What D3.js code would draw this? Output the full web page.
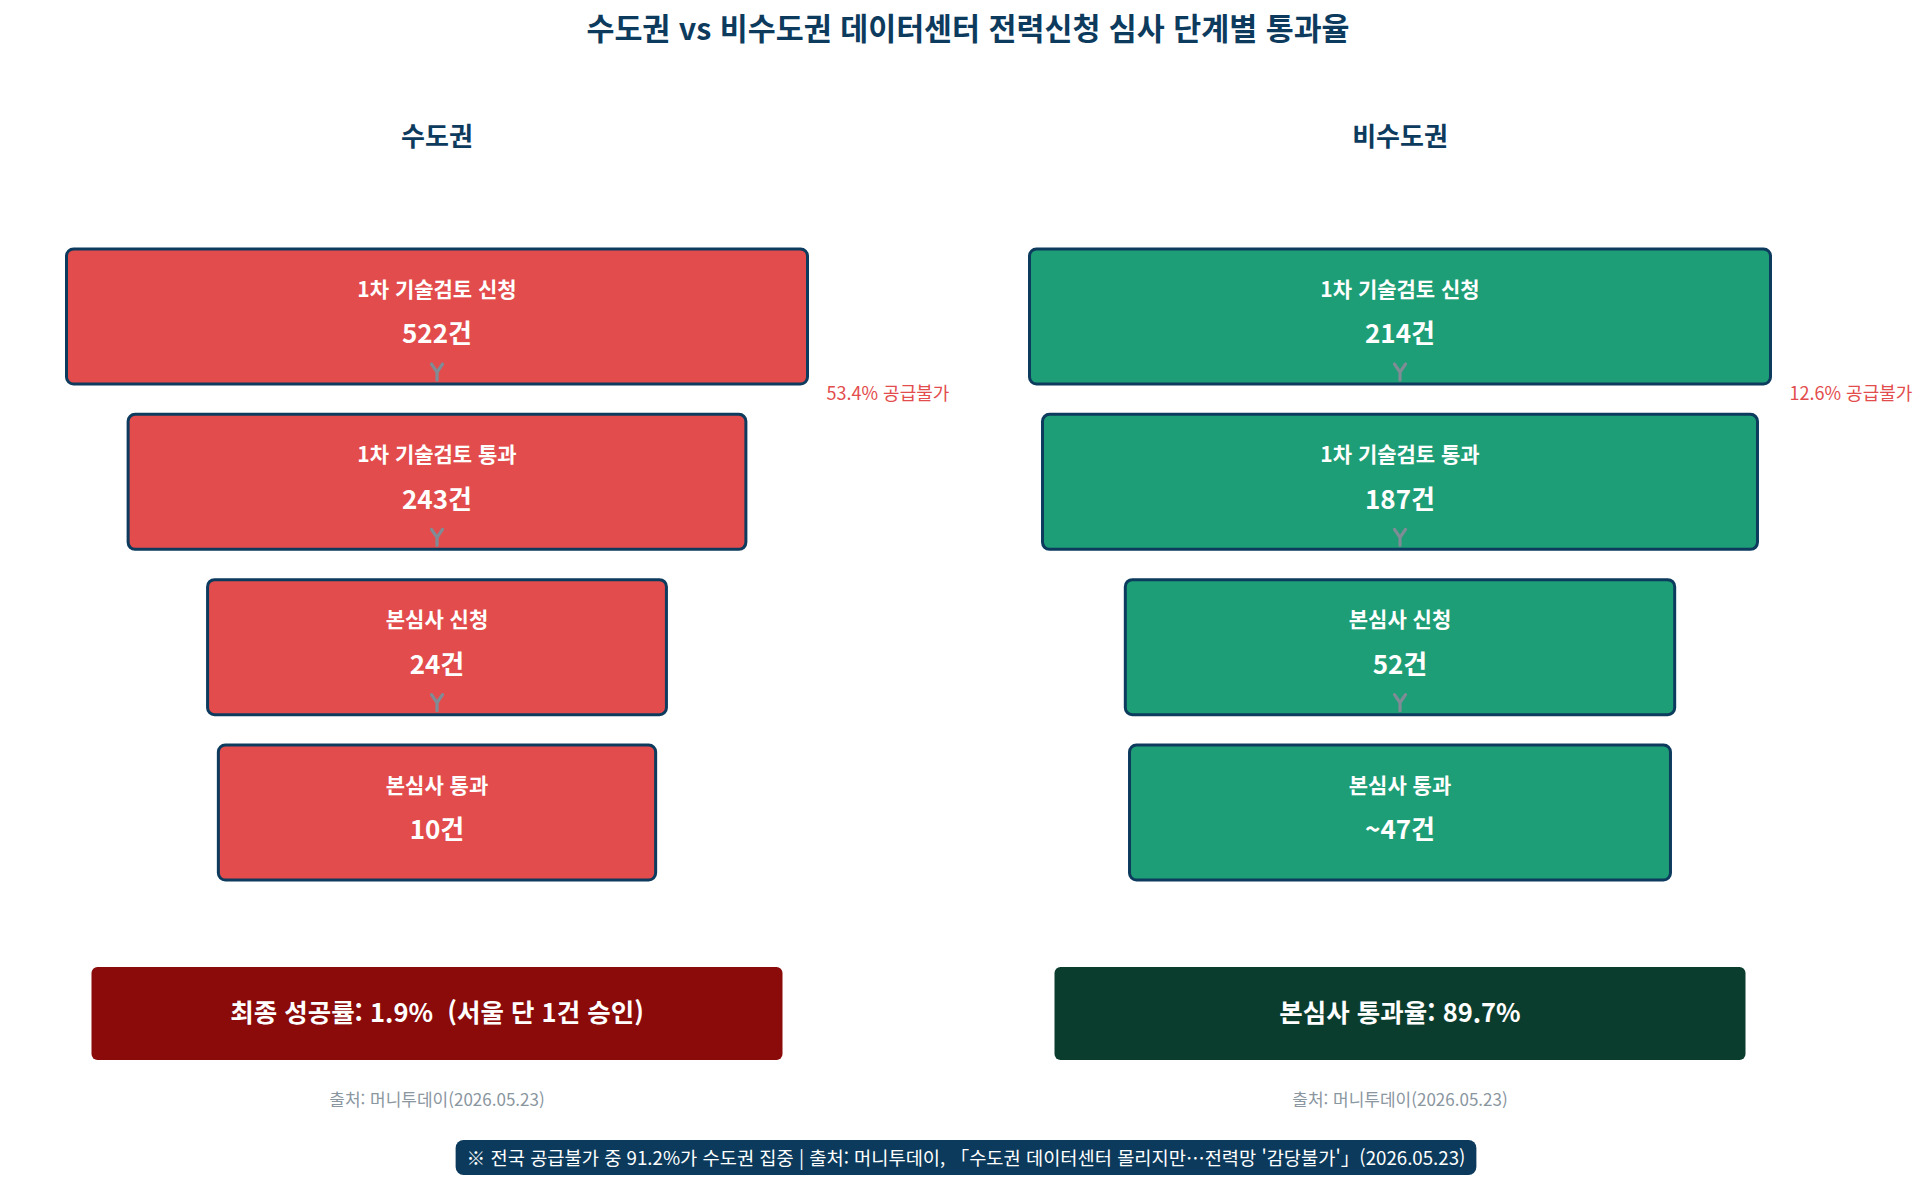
<!DOCTYPE html>
<html lang="ko">
<head>
<meta charset="utf-8">
<script src="https://cdn.jsdelivr.net/npm/d3@7.9.0/dist/d3.min.js"></script>
<style>
  body { margin: 0; background: #fff; }
  svg { display: block; font-family: "Noto Sans CJK KR", "Noto Sans", sans-serif; }
</style>
</head>
<body>
<svg id="chart"></svg>
<script>
// data
const regions = ['수도권', '비수도권'];
const stages = ['1차 기술검토 신청', '1차 기술검토 통과', '본심사 신청', '본심사 통과'];
const capitalValues = [522, 243, 24, 10];
const nonCapitalValues = [214, 187, 52, 47];
const approxFlags = [[false, false, false, false], [false, false, false, true]];
const summaryLabels = ['최종 성공률', '본심사 통과율'];
const summaryRates = [1.9, 89.7];
const summaryNotes = ['  (서울 단 1건 승인)', ''];
const sourceNote = '출처: 머니투데이(2026.05.23)';
const footerNote = '※ 전국 공급불가 중 91.2%가 수도권 집중 | 출처: 머니투데이, 「수도권 데이터센터 몰리지만…전력망 \'감당불가\'」(2026.05.23)';
const titleText = '수도권 vs 비수도권 데이터센터 전력신청 심사 단계별 통과율';

const W = 1928, H = 1180;
const navy = '#0d3b5e';
const boxColors = ['#e34c4c', '#1e9e76'];
const summaryColors = ['#8b0a0a', '#0b3d2e'];

const svg = d3.select('#chart').attr('width', W).attr('height', H);

const x = d3.scalePoint().domain(regions).range([437, 1400]);
const y = d3.scaleBand().domain(stages).range([249, 880]).paddingInner(0.183);
const seriesByRegion = [capitalValues, nonCapitalValues];

svg.append('text')
  .attr('x', 968).attr('y', 29).attr('dy', '0.35em')
  .attr('text-anchor', 'middle')
  .attr('font-size', 30.4).attr('font-weight', 700).attr('fill', navy)
  .text(titleText);

regions.forEach((region, ri) => {
  const cx = x(region);
  const values = seriesByRegion[ri];
  const maxW = 741;
  const w = d3.scalePow().exponent(0.6).domain([0, d3.max(values)]).range([maxW * 0.548, maxW]);
  const g = svg.append('g');

  g.append('text')
    .attr('x', cx).attr('y', 137).attr('dy', '0.35em')
    .attr('text-anchor', 'middle')
    .attr('font-size', 26).attr('font-weight', 700).attr('fill', navy)
    .text(region);

  const rows = stages.map((s, i) => ({ stage: s, value: values[i], approx: approxFlags[ri][i], i }));
  const bh = y.bandwidth();

  const row = g.selectAll('g.stage').data(rows).join('g').attr('class', 'stage');

  row.append('rect')
    .attr('x', d => cx - w(d.value) / 2)
    .attr('y', d => y(d.stage))
    .attr('width', d => w(d.value))
    .attr('height', bh)
    .attr('rx', 7)
    .attr('fill', boxColors[ri])
    .attr('stroke', navy)
    .attr('stroke-width', 3);

  row.append('text')
    .attr('x', cx).attr('y', d => y(d.stage) + bh * 0.30).attr('dy', '0.35em')
    .attr('text-anchor', 'middle')
    .attr('font-size', 21).attr('font-weight', 700).attr('fill', '#fff')
    .text(d => d.stage);

  row.append('text')
    .attr('x', cx).attr('y', d => y(d.stage) + bh * 0.63).attr('dy', '0.35em')
    .attr('text-anchor', 'middle')
    .attr('font-size', 26).attr('font-weight', 700).attr('fill', '#fff')
    .text(d => (d.approx ? '~' : '') + d.value + '건');

  // little down chevrons at the bottom of every box but the last
  row.filter(d => d.i < stages.length - 1).append('path')
    .attr('d', d => {
      const yb = y(d.stage) + bh;
      return d3.line()([[cx - 5.5, yb - 20], [cx, yb - 12], [cx + 5.5, yb - 20]]) +
        d3.line()([[cx, yb - 12], [cx, yb - 4]]);
    })
    .attr('fill', 'none')
    .attr('stroke', '#7f8c96')
    .attr('stroke-width', 3.2)
    .attr('stroke-linecap', 'round');

  // rejection share after the first review
  const rejected = (values[0] - values[1]) / values[0] * 100;
  g.append('text')
    .attr('x', cx + w(values[0]) / 2 + 19)
    .attr('y', (y(stages[0]) + bh + y(stages[1])) / 2 - 5).attr('dy', '0.35em')
    .attr('font-size', 18).attr('fill', '#e34c4c')
    .text(rejected.toFixed(1) + '% 공급불가');

  // summary box
  const sw = 691, sh = 93, sy = 967;
  g.append('rect')
    .attr('x', cx - sw / 2).attr('y', sy)
    .attr('width', sw).attr('height', sh)
    .attr('rx', 6)
    .attr('fill', summaryColors[ri]);

  g.append('text')
    .attr('x', cx).attr('y', sy + sh / 2).attr('dy', '0.35em')
    .attr('text-anchor', 'middle')
    .attr('font-size', 25.5).attr('font-weight', 700).attr('fill', '#fff')
    .style('white-space', 'pre')
    .text(`${summaryLabels[ri]}: ${summaryRates[ri]}%${summaryNotes[ri]}`);

  g.append('text')
    .attr('x', cx).attr('y', 1100).attr('dy', '0.35em')
    .attr('text-anchor', 'middle')
    .attr('font-size', 17).attr('fill', '#8a96a0')
    .text(sourceNote);
});

// footer banner
const footer = svg.append('g');
const ft = footer.append('text')
  .attr('x', 966).attr('y', 1158).attr('dy', '0.35em')
  .attr('text-anchor', 'middle')
  .attr('font-size', 18.7).attr('fill', '#fff')
  .text(footerNote);
const bb = ft.node().getBBox();
footer.insert('rect', 'text')
  .attr('x', bb.x - 11).attr('y', 1140)
  .attr('width', bb.width + 22).attr('height', 35)
  .attr('rx', 8)
  .attr('fill', '#0b3a5c');
</script>
</body>
</html>
